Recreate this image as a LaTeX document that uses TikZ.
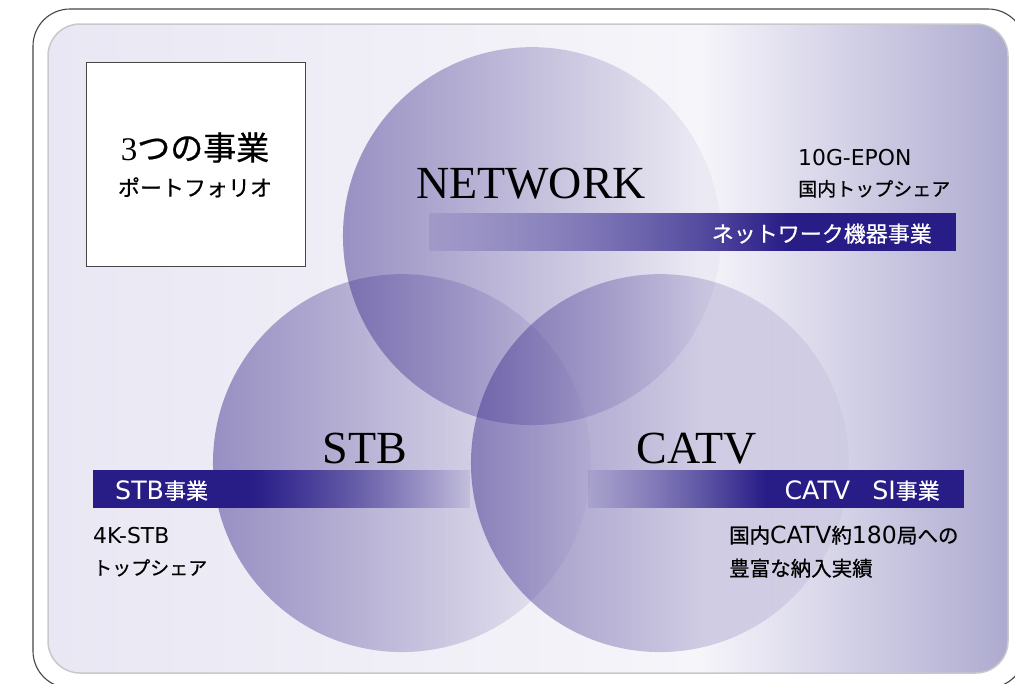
\documentclass[tikz,border=0pt]{standalone}
\usepackage{fontspec}
\setmainfont{Liberation Serif}
\newfontfamily\jp{Noto Sans CJK JP}[FakeBold=0.6]
\newfontfamily\lat{DejaVu Sans}[Scale=1.15]
\usetikzlibrary{fadings}
\definecolor{bgL}{RGB}{233,231,243}
\definecolor{bgM}{RGB}{246,245,250}
\definecolor{bgR}{RGB}{173,170,208}
\definecolor{circ}{RGB}{60,45,140}
\definecolor{navy}{RGB}{40,28,135}
\definecolor{outerline}{RGB}{70,70,70}
\definecolor{innerline}{RGB}{200,200,205}
\tikzfading[name=circfade, left color=transparent!52, right color=transparent!97]
\tikzfading[name=fadein, left color=transparent!92, right color=transparent!0]
\tikzfading[name=fadeout, left color=transparent!0, right color=transparent!92]
\tikzset{
  seriflabel/.style={font=\fontsize{46}{46}\selectfont, inner sep=0, anchor=base},
  body/.style={font=\jp\fontsize{19}{19}\selectfont, anchor=base west, inner sep=0},
  bodybig/.style={font=\jp\fontsize{20.5}{20.5}\selectfont, anchor=base west, inner sep=0},
  bartxt/.style={text=white, font=\jp\fontsize{22}{22}\selectfont, inner sep=0},
  venn/.style={fill=circ, path fading=circfade},
  bar/.style={fill=navy},
}
\begin{document}
\begin{tikzpicture}[x=1pt,y=-1pt]
\useasboundingbox (0,0) rectangle (1015,683);
\clip (0,0) rectangle (1015,683);
\fill[white] (0,0) rectangle (1015,683);
% outer frame
\draw[outerline, line width=1.1pt, rounded corners=37pt] (33,9) rectangle (1025,688);
% inner panel
\begin{scope}
  \clip[rounded corners=32pt] (48,24) rectangle (1008,673);
  \shade[left color=bgL, right color=bgM] (47,23) rectangle (701,674);
  \shade[left color=bgM, right color=bgR] (700,23) rectangle (1009,674);
\end{scope}
\draw[innerline, line width=1.5pt, rounded corners=32pt] (48,24) rectangle (1008,673);
% circles
\fill[venn] (532,236) circle[radius=189pt];
\fill[venn] (402,463) circle[radius=189pt];
\fill[venn] (660,463) circle[radius=189pt];
% bars
\fill[navy, path fading=fadein] (429,213) rectangle (790,251);
\fill[bar] (789,213) rectangle (956,251);
\fill[bar] (93,470) rectangle (251,508);
\fill[navy, path fading=fadeout] (250,470) rectangle (470,508);
\fill[navy, path fading=fadein] (588,470) rectangle (766,508);
\fill[bar] (765,470) rectangle (964,508);
% title box
\node[draw=outerline, fill=white, line width=1pt, minimum width=219pt, minimum height=204pt, inner sep=0] (box) at (195.5,164) {};
\node[anchor=base, inner sep=0, font=\jp\fontsize{33}{33}\selectfont] (title1) at (195,160) {{\rmfamily 3}つの事業};
\node[anchor=base, inner sep=0, font=\jp\fontsize{22}{22}\selectfont] (title2) at (195,196) {ポートフォリオ};
% circle labels
\node[seriflabel] (net) at (531,198) {NETWORK};
\node[seriflabel] (stb) at (365,463) {STB};
\node[seriflabel] (catv) at (697,463) {CATV};
% bar texts
\node[bartxt, anchor=base east] (netbar) at (932,242) {ネットワーク機器事業};
\node[bartxt, anchor=base west] (stbbar) at (115,499) {{\lat STB}事業};
\node[bartxt, anchor=base east] (catvbar) at (940,499) {{\lat CATV}　{\lat SI}事業};
% descriptions
\node[body] (epon) at (798,165) {{\lat 10G-EPON}};
\node[body] (share1) at (798,196) {国内トップシェア};
\node[body] (k4) at (93,543) {{\lat 4K-STB}};
\node[body] (share2) at (93,575) {トップシェア};
\node[bodybig] (catv1) at (729,543) {国内{\lat CATV}約{\lat 180}局への};
\node[bodybig] (catv2) at (729,576) {豊富な納入実績};
\end{tikzpicture}
\end{document}
